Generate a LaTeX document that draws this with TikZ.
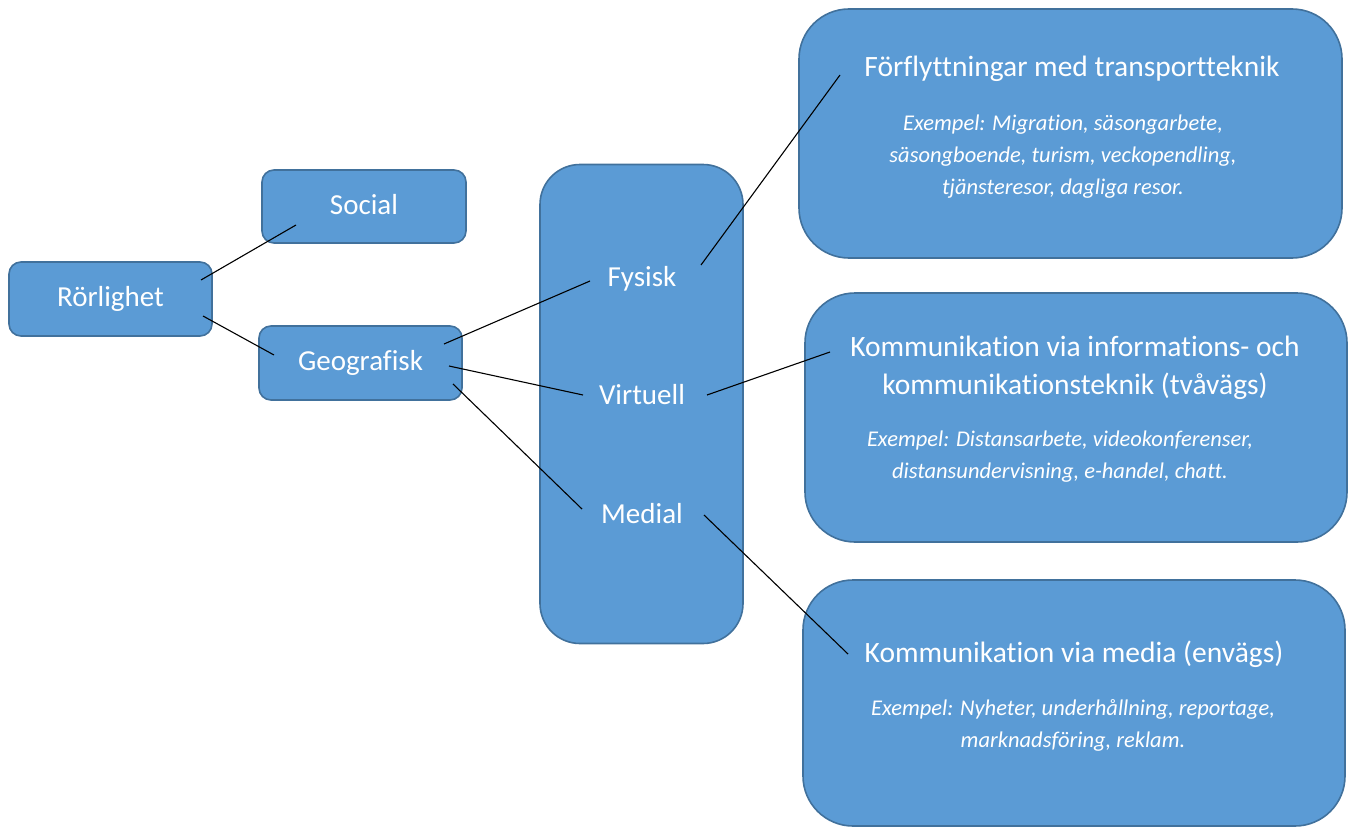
\documentclass[tikz,border=0pt]{standalone}
\usepackage{fontspec}
\setmainfont{Carlito}[Ligatures=NoCommon]
\usetikzlibrary{calc}
\definecolor{boxfill}{HTML}{5B9BD5}
\definecolor{boxline}{HTML}{41719C}
\begin{document}
\begin{tikzpicture}[x=1pt,y=-1pt,
  box/.style={draw=boxline, line width=1.6pt, fill=boxfill, rounded corners=#1, inner sep=0pt},
  box/.default=12pt,
  lbl/.style={text=white, font=\fontsize{29}{34}\selectfont, inner sep=0pt},
  ttl/.style={text=white, font=\fontsize{29.5}{38}\selectfont, align=center, inner sep=0pt},
  ex/.style={text=white, font=\fontsize{22.5}{32}\selectfont\itshape, align=center, inner sep=0pt},
  conn/.style={draw=black, line width=1.1pt}]
\useasboundingbox (0,0) rectangle (1353,827);
% small boxes
\node[box, minimum width=203pt, minimum height=74pt] (rorl) at (110.5,299) {};
\node[lbl] at (110.5,299) {Rörlighet};
\node[box, minimum width=204pt, minimum height=73pt] (soc) at (364,206.5) {};
\node[lbl] at (364,205) {Social};
\node[box, minimum width=203pt, minimum height=74pt] (geo) at (360.5,363) {};
\node[lbl] at (360.5,363) {Geografisk};
% tall box
\node[box=40pt, minimum width=203pt, minimum height=479pt] (mid) at (641.5,404) {};
\node[lbl] (fys) at (642,278.5) {Fysisk};
\node[lbl] (virt) at (642,395) {Virtuell};
\node[lbl] (med) at (642,514) {Medial};
% big boxes
\node[box=50pt, minimum width=543pt, minimum height=249pt] (b1) at (1070.5,133.5) {};
\node[ttl] (t1) at (1072,69) {Förflyttningar med transportteknik};
\node[ex] (e1) at (1063,156.5) {Exempel: Migration, säsongarbete,\\ säsongboende, turism, veckopendling,\\ tjänsteresor, dagliga resor.};
\node[box=50pt, minimum width=542pt, minimum height=249pt] (b2) at (1076,417.5) {};
\node[ttl] (t2) at (1075,368) {Kommunikation via informations- och\\ kommunikationsteknik (tvåvägs)};
\node[ex] (e2) at (1060,457) {Exempel: Distansarbete, videokonferenser,\\ distansundervisning, e-handel, chatt.};
\node[box=50pt, minimum width=542pt, minimum height=246pt] (b3) at (1074,703) {};
\node[ttl] (t3) at (1074,654) {Kommunikation via media (envägs)};
\node[ex] (e3) at (1073,725.5) {Exempel: Nyheter, underhållning, reportage,\\ marknadsföring, reklam.};
% connectors
\draw[conn] ($(rorl.center)+(90.5,-19)$) -- ($(soc.center)+(-68,18.5)$);
\draw[conn] ($(rorl.center)+(92.5,17)$) -- ($(geo.center)+(-86.5,-8)$);
\draw[conn] ($(geo.center)+(83.5,-19)$) -- ($(mid.center)+(-51.5,-123)$);
\draw[conn] ($(geo.center)+(88.5,3)$) -- ($(mid.center)+(-58.5,-9)$);
\draw[conn] ($(geo.center)+(92.5,21)$) -- ($(mid.center)+(-59.5,105)$);
\draw[conn] ($(mid.center)+(59.5,-139)$) -- ($(b1.center)+(-230.5,-58.5)$);
\draw[conn] ($(mid.center)+(65.5,-9)$) -- ($(b2.center)+(-246,-65.5)$);
\draw[conn] ($(mid.center)+(62.5,111)$) -- ($(b3.center)+(-226,-49)$);
\end{tikzpicture}
\end{document}
